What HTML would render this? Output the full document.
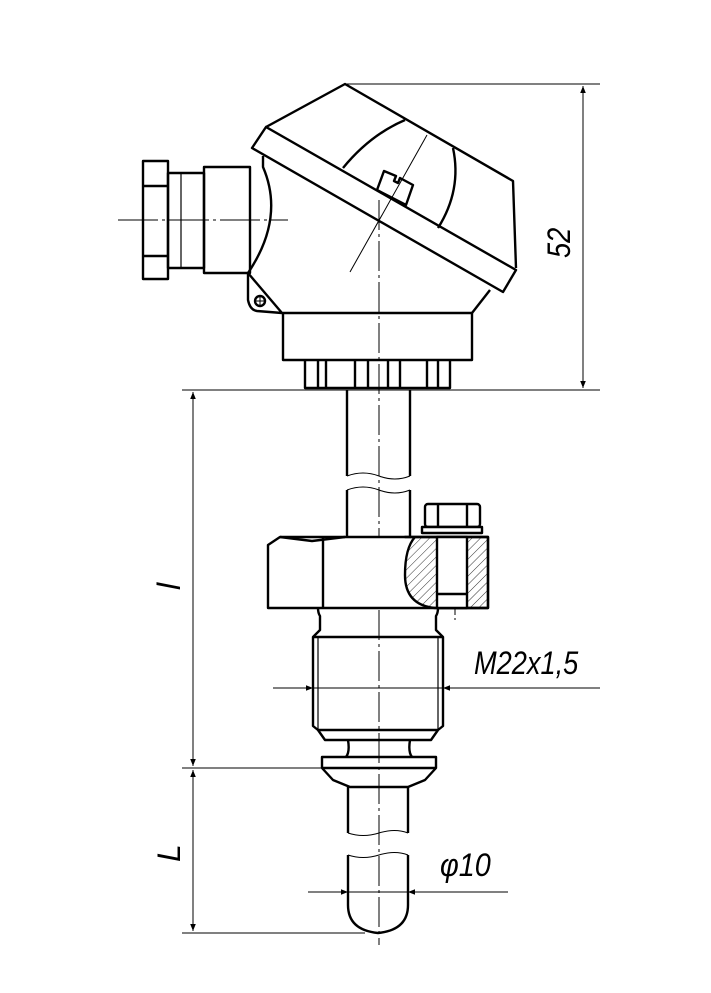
<!DOCTYPE html>
<html><head><meta charset="utf-8"><style>
html,body{margin:0;padding:0;background:#fff;}
svg{display:block;}
text{font-family:"Liberation Sans",sans-serif;font-style:italic;fill:#000;}
</style></head><body>
<svg width="711" height="993" viewBox="0 0 711 993" xmlns="http://www.w3.org/2000/svg">
<defs>
<pattern id="h" width="6" height="6" patternUnits="userSpaceOnUse" patternTransform="rotate(45)">
<line x1="0" y1="0" x2="0" y2="6" stroke="#000" stroke-width="0.8"/>
</pattern>
<marker id="a" viewBox="0 0 10 10" refX="10" refY="5" markerWidth="18" markerHeight="7" orient="auto-start-reverse" markerUnits="userSpaceOnUse"><path d="M0,1 L10,5 L0,9 Z" fill="#000"/></marker>
</defs>
<g fill="none" stroke="#000" stroke-width="1">
<line x1="345" y1="84" x2="600" y2="84"/>
<line x1="182" y1="390" x2="600" y2="390"/>
<line x1="583" y1="86" x2="583" y2="388" marker-start="url(#a)" marker-end="url(#a)"/>
<line x1="193" y1="392" x2="193" y2="766" marker-start="url(#a)" marker-end="url(#a)"/>
<line x1="193" y1="770" x2="193" y2="931" marker-start="url(#a)" marker-end="url(#a)"/>
<line x1="182" y1="768" x2="322" y2="768"/>
<line x1="182" y1="933" x2="365" y2="933"/>
<line x1="273" y1="688" x2="313" y2="688" marker-end="url(#a)"/>
<line x1="443" y1="688" x2="600" y2="688" marker-start="url(#a)"/>
<line x1="313" y1="688" x2="443" y2="688"/>
<line x1="308" y1="892" x2="348" y2="892" marker-end="url(#a)"/>
<line x1="408" y1="892" x2="508" y2="892" marker-start="url(#a)"/>
<line x1="348" y1="892" x2="408" y2="892"/>
<line x1="379" y1="200" x2="379" y2="945" stroke-dasharray="30,4,3,4"/>
<line x1="118" y1="220" x2="288" y2="220" stroke-dasharray="40,4,3,4"/>
<line x1="350" y1="272" x2="427" y2="135"/>
<line x1="455" y1="508" x2="455" y2="620" stroke-dasharray="20,3,3,3"/>
</g>
<g fill="none" stroke="#000" stroke-width="2.4" stroke-linejoin="round">
<polyline points="266,127 345,84 513,181 516,268"/>
<polygon points="266,127 516,270 503,292 252,148"/>
<path d="M343,168 Q370,135 405,120"/>
<path d="M453,148 Q462,190 438,228"/>
<path d="M377,190 L384,171 L396,176 L394,181 L398,183 L400,178 L413,185 L406,205 Z"/>
<path d="M263,156 L263,167 Q285,218 248,273 L248,300 Q250,310 257,311 L282,313"/>
<path d="M248,273 L282,313"/>
<path d="M490,290 L472,313"/>
<circle cx="260" cy="301" r="5"/>
<line x1="255" y1="301" x2="265" y2="301" stroke-width="1"/>
<line x1="260" y1="296" x2="260" y2="306" stroke-width="1"/>
<rect x="204" y="167" width="46" height="106"/>
<rect x="168" y="173" width="36" height="95"/>
<line x1="181" y1="173" x2="181" y2="268" stroke-width="1.2"/>
<rect x="143" y="161" width="25" height="118"/>
<line x1="143" y1="186" x2="168" y2="186"/>
<line x1="143" y1="256" x2="168" y2="256"/>
<rect x="283" y="313" width="189" height="47"/>
<path d="M305,360 V388 H450 V360"/>
<line x1="318" y1="360" x2="318" y2="388"/>
<line x1="326" y1="360" x2="326" y2="388"/>
<line x1="355" y1="360" x2="355" y2="388"/>
<line x1="368" y1="360" x2="368" y2="388"/>
<line x1="388" y1="360" x2="388" y2="388"/>
<line x1="400" y1="360" x2="400" y2="388"/>
<line x1="427" y1="360" x2="427" y2="388"/>
<line x1="438" y1="360" x2="438" y2="388"/>
<path d="M347,390 V476 M410,390 V476 M347,490 V537 M410,490 V537"/>
<path d="M347,476 Q363,470 379,476 T410,476" stroke-width="1"/>
<path d="M347,490 Q363,484 379,490 T410,490" stroke-width="1"/>
<path d="M268,545 L280,537 L488,537 L488,608 L268,608 Z" fill="#fff"/>
<path d="M323,537 L323,608"/>
<path d="M280,537 L312,541 L345,537"/>
<path d="M405,537 L488,537 L488,608 L435,608 Q405,605 405,575 Q405,548 415,537 Z" fill="url(#h)"/>
<rect x="437" y="537" width="30" height="71" fill="#fff"/>
<line x1="437" y1="594" x2="467" y2="594"/>
<rect x="425" y="504" width="55" height="23" rx="3" fill="#fff"/>
<line x1="438" y1="504" x2="438" y2="527"/>
<line x1="467" y1="504" x2="467" y2="527"/>
<rect x="422" y="527" width="60" height="6" fill="#fff"/>
<path d="M318,608 Q318,613 320,616 V630 L313,637 V726 L318,730 H438 L443,726 V637 L436,630 V616 Q438,613 438,608"/>
<line x1="313" y1="637" x2="443" y2="637"/>
<line x1="318" y1="637" x2="318" y2="730" stroke-width="1.2"/>
<line x1="438" y1="637" x2="438" y2="730" stroke-width="1.2"/>
<path d="M318,730 L325,740 H431 L438,730"/>
<path d="M348,740 Q350,752 346,757 M410,740 Q408,752 412,757"/>
<path d="M322,757 H436 V768 L425,780 L408,787 H350 L333,780 L322,768 Z"/>
<line x1="322" y1="768" x2="436" y2="768"/>
<path d="M348,787 V833 M408,787 V833"/>
<path d="M348,833 Q363,838 379,833 T408,833" stroke-width="1"/>
<path d="M348,855 Q363,860 379,855 T408,855" stroke-width="1"/>
<path d="M348,855 V905 Q348,930 378,933 Q408,930 408,905 V855"/>
</g>
<text x="0" y="0" font-size="32" transform="translate(570,258) rotate(-90) scale(0.85,1)">52</text>
<text x="0" y="0" font-size="32" transform="translate(180,590) rotate(-90)">l</text>
<text x="0" y="0" font-size="32" transform="translate(180,862) rotate(-90)">L</text>
<text x="0" y="0" font-size="32" transform="translate(474,674) scale(0.85,1)">M22x1,5</text>
<text x="0" y="0" font-size="32" transform="translate(440,876) scale(0.9,1)">φ10</text>
</svg>
</body></html>
